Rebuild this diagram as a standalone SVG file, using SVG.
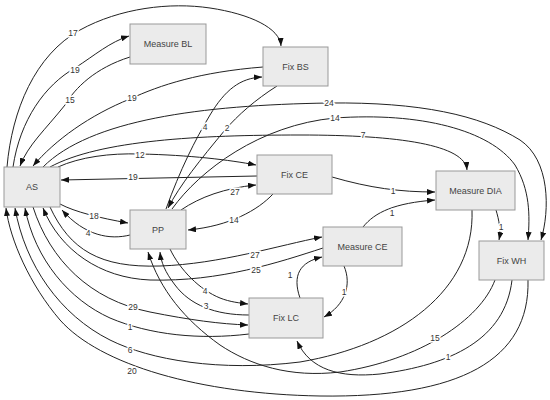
<svg xmlns="http://www.w3.org/2000/svg" width="550" height="400" viewBox="0 0 550 400">
<style>
.node rect{fill:#ebebeb;stroke:#999;stroke-width:1}
.node text{font-family:"Liberation Sans",Arial,sans-serif;font-size:9px;fill:#444;text-anchor:middle;dominant-baseline:central}
.edges path{fill:none;stroke:#222;stroke-width:1}
.edges path.a{marker-end:url(#ah)}
.lbl text{font-family:"Liberation Sans",Arial,sans-serif;font-size:8.5px;fill:#333;text-anchor:middle;dominant-baseline:central;stroke:#fff;stroke-width:3;paint-order:stroke}
</style>
<defs>
<marker id="ah" markerWidth="8" markerHeight="6" refX="8" refY="3" orient="auto" markerUnits="userSpaceOnUse">
<path d="M0,0 L8,3 L0,6 z" fill="#111"/>
</marker>
</defs>
<rect width="550" height="400" fill="#fff"/>
<g class="edges">
<path class="a" d="M7,167 C12,110 35,55 80,30 C120,8 170,2 210,8 C250,14 280,28 281,46"/>
<path class="a" d="M13,167 C20,120 45,85 75,68 C95,55 110,42 129,36"/>
<path class="a" d="M130,57 C95,68 75,88 65,105 C45,130 28,145 20,166"/>
<path class="a" d="M263,67 C200,72 160,85 130,99 C90,115 55,140 33,166"/>
<path class="a" d="M43,167 C90,120 200,105 329,103 C420,102 480,115 520,140 C550,160 550,210 541,240"/>
<path class="a" d="M50,167 C100,140 200,135 300,135 C400,135 465,145 467,170"/>
<path class="a" d="M58,167 C80,157 110,153 140,154 C190,155 230,160 256,165"/>
<path class="a" d="M257,176 L61,180"/>
<path class="a" d="M60,204 C75,212 100,218 128,223"/>
<path class="a" d="M130,235 C110,240 85,236 62,210"/>
<path class="a" d="M50,207 C70,250 100,268 160,266 C220,264 280,245 322,237"/>
<path class="a" d="M323,248 C280,262 220,282 150,280 C100,278 60,250 43,208"/>
<path class="a" d="M33,207 C50,260 90,300 150,312 C190,320 220,324 248,325"/>
<path class="a" d="M249,334 C200,340 150,335 110,318 C70,300 35,260 25,208"/>
<path class="a" d="M528,280 C530,360 460,398 320,396 C200,394 100,365 60,320 C30,285 10,240 6,208"/>
<path class="a" d="M472,210 C475,290 400,345 300,362 C220,372 150,360 110,340 C60,315 25,265 15,208"/>
<path class="a" d="M495,280 C480,320 420,360 340,372 C290,378 250,365 220,345 C185,320 160,290 148,252"/>
<path class="a" d="M512,280 C505,340 450,365 380,374 C340,378 310,370 297,341"/>
<path class="a" d="M249,315 C215,315 190,305 175,285 C165,272 161,262 160,252"/>
<path class="a" d="M170,249 C180,270 200,290 220,298 C230,302 240,303 248,304"/>
<path class="a" d="M166,209 C180,170 195,140 210,115 C225,90 240,78 262,77"/>
<path class="a" d="M277,86 C255,100 238,115 225,130 C200,160 180,185 168,208"/>
<path class="a" d="M172,209 C200,170 260,125 335,118 C420,112 490,130 515,165 C530,190 530,215 528,240"/>
<path class="a" d="M181,210 C200,197 225,188 256,185"/>
<path class="a" d="M273,194 C258,210 230,226 188,230"/>
<path class="a" d="M332,177 C370,188 400,192 435,192"/>
<path class="a" d="M363,227 C375,212 395,203 435,200"/>
<path class="a" d="M496,210 C499,220 501,230 499,240"/>
<path class="a" d="M300,298 C292,275 300,262 322,257"/>
<path class="a" d="M344,266 C352,285 345,305 324,317"/>
</g>
<g class="lbl">
<text x="73" y="33">17</text>
<text x="75" y="70">19</text>
<text x="70" y="100">15</text>
<text x="132" y="98">19</text>
<text x="329" y="103">24</text>
<text x="335" y="118">14</text>
<text x="363" y="135">7</text>
<text x="140" y="155">12</text>
<text x="133" y="177">19</text>
<text x="235" y="192">27</text>
<text x="234" y="220">14</text>
<text x="94" y="216">18</text>
<text x="88" y="233">4</text>
<text x="393" y="191">1</text>
<text x="392" y="213">1</text>
<text x="501" y="227">1</text>
<text x="255" y="255">27</text>
<text x="256" y="270">25</text>
<text x="205" y="291">4</text>
<text x="206" y="306">3</text>
<text x="290" y="275">1</text>
<text x="344" y="292">1</text>
<text x="133" y="307">29</text>
<text x="130" y="327">1</text>
<text x="130" y="350">6</text>
<text x="132" y="371">20</text>
<text x="435" y="338">15</text>
<text x="448" y="357">1</text>
<text x="205" y="127">4</text>
<text x="227" y="128">2</text>
</g>
<g class="node" id="AS"><rect x="4" y="167" width="56" height="40"/><text x="32" y="187">AS</text></g>
<g class="node" id="MeasureBL"><rect x="130" y="24" width="76" height="40"/><text x="168" y="44">Measure BL</text></g>
<g class="node" id="FixBS"><rect x="263" y="47" width="65" height="39"/><text x="295.5" y="66.5">Fix BS</text></g>
<g class="node" id="FixCE"><rect x="257" y="155" width="75" height="39"/><text x="294.5" y="174.5">Fix CE</text></g>
<g class="node" id="MeasureDIA"><rect x="436" y="171" width="79" height="39"/><text x="475.5" y="190.5">Measure DIA</text></g>
<g class="node" id="PP"><rect x="130" y="210" width="56" height="39"/><text x="158" y="229.5">PP</text></g>
<g class="node" id="MeasureCE"><rect x="323" y="227" width="79" height="39"/><text x="362.5" y="246.5">Measure CE</text></g>
<g class="node" id="FixWH"><rect x="479" y="241" width="65" height="39"/><text x="511.5" y="260.5">Fix WH</text></g>
<g class="node" id="FixLC"><rect x="249" y="298" width="74" height="40"/><text x="286" y="318">Fix LC</text></g>
</svg>
